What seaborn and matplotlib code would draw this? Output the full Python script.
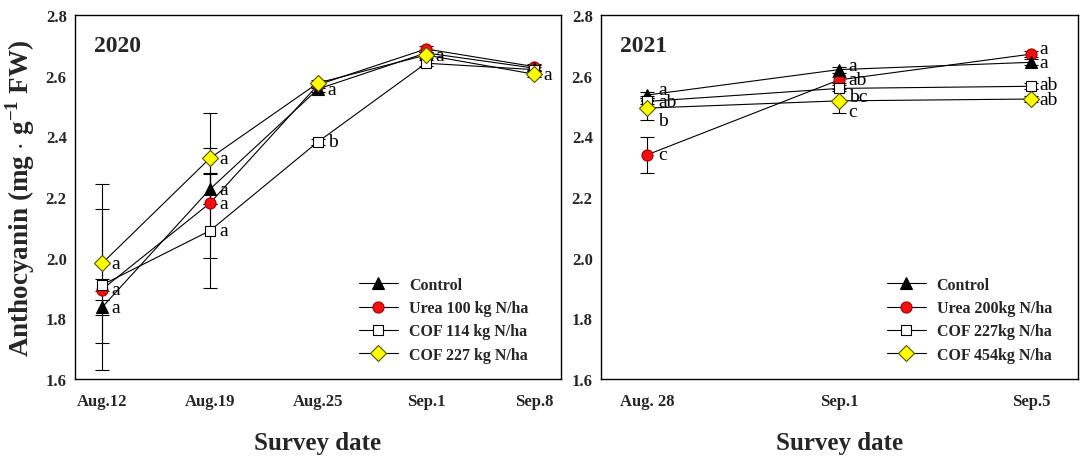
import matplotlib
matplotlib.use("Agg")
import matplotlib.pyplot as plt
import seaborn as sns
import pandas as pd
import numpy as np
from matplotlib.ticker import FormatStrFormatter

# ---------------- data ----------------
dates_2020 = ['Aug.12', 'Aug.19', 'Aug.25', 'Sep.1', 'Sep.8']
labels_2020 = ['Control', 'Urea 100 kg N/ha', 'COF 114 kg N/ha', 'COF 227 kg N/ha']
ctrl_2020 = [1.836, 2.226, 2.556, 2.675, 2.625]
urea_2020 = [1.895, 2.180, 2.570, 2.688, 2.630]
cof114_2020 = [1.910, 2.089, 2.382, 2.641, 2.620]
cof227_2020 = [1.981, 2.328, 2.576, 2.668, 2.605]
ctrl_err_2020 = [0.025, 0.05, 0.01, 0.01, 0.01]
urea_err_2020 = [0.265, 0.18, 0.01, 0.01, 0.01]
cof114_err_2020 = [0.02, 0.19, 0.01, 0.01, 0.01]
cof227_err_2020 = [0.262, 0.15, 0.01, 0.01, 0.01]
ctrl_let_2020 = ['a', 'a', 'a', '', '']
urea_let_2020 = ['a', 'a', '', '', '']
cof114_let_2020 = ['', 'a', 'b', '', '']
cof227_let_2020 = ['a', 'a', '', 'a', 'a']

dates_2021 = ['Aug. 28', 'Sep.1', 'Sep.5']
labels_2021 = ['Control', 'Urea 200kg N/ha', 'COF 227kg N/ha', 'COF 454kg N/ha']
ctrl_2021 = [2.536, 2.620, 2.644]
urea_2021 = [2.339, 2.586, 2.671]
cof227_2021 = [2.515, 2.558, 2.565]
cof454_2021 = [2.493, 2.517, 2.523]
ctrl_err_2021 = [0.01, 0.01, 0.01]
urea_err_2021 = [0.06, 0.01, 0.01]
cof227_err_2021 = [0.01, 0.01, 0.01]
cof454_err_2021 = [0.04, 0.04, 0.01]
ctrl_let_2021 = ['a', 'a', 'a']
urea_let_2021 = ['c', 'ab', 'a']
cof227_let_2021 = ['ab', 'bc', 'ab']
cof454_let_2021 = ['b', 'c', 'ab']

# letter vertical offsets (points) -- styling only
ctrl_dy_2021 = [4, 3, 0]
urea_dy_2021 = [0, 0, 4]
cof227_dy_2021 = [0, -6, 1]
cof454_dy_2021 = [-9, -8, 0]

# ---------------- style ----------------
sns.set_theme(style="white")
plt.rcParams['font.family'] = ['Liberation Serif', 'DejaVu Serif']
plt.rcParams['mathtext.fontset'] = 'custom'
plt.rcParams['mathtext.rm'] = 'Liberation Serif'
plt.rcParams['mathtext.bf'] = 'Liberation Serif:bold'

styles = [
    dict(marker='^', markerfacecolor='black', markeredgecolor='black', markersize=8.5),
    dict(marker='o', markerfacecolor='#ee1111', markeredgecolor='#aa0000', markersize=8),
    dict(marker='s', markerfacecolor='white', markeredgecolor='black', markersize=7.5),
    dict(marker='D', markerfacecolor='#ffff00', markeredgecolor='#555500', markersize=8),
]
zorders = [4, 3, 5, 6]

fig = plt.figure(figsize=(10.91, 4.6), dpi=100)
ax1 = fig.add_axes([75 / 1091, 1 - 380 / 460, 486 / 1091, 364 / 460])
ax2 = fig.add_axes([601 / 1091, 1 - 380 / 460, 477 / 1091, 364 / 460])


def draw(ax, dates, labels, vals, errs, lets, dys, xlim, title, leg_x, ldx):
    x = np.arange(len(dates))
    for i, (lab, v, e, l, dy) in enumerate(zip(labels, vals, errs, lets, dys)):
        df = pd.DataFrame({'x': x, 'y': v})
        ax.errorbar(x, v, yerr=e, fmt='none', ecolor='black', elinewidth=0.8,
                    capsize=5, capthick=0.8, zorder=2)
        sns.lineplot(data=df, x='x', y='y', ax=ax, color='black', linewidth=0.8,
                     label=lab, zorder=zorders[i], markeredgewidth=0.8, **styles[i])
        for xi, yi, li, dyi, dxi in zip(x, v, l, dy, ldx):
            if li:
                ax.annotate(li, (xi, yi), xytext=(dxi, dyi), textcoords='offset points',
                            ha='left', va='center', fontsize=14, color='black', zorder=8)
    ax.set_xlim(*xlim)
    ax.set_ylim(1.6, 2.8)
    ax.set_yticks(np.arange(1.6, 2.81, 0.2))
    ax.yaxis.set_major_formatter(FormatStrFormatter('%.1f'))
    ax.set_xticks(x)
    ax.set_xticklabels(dates)
    ax.tick_params(axis='y', direction='in', length=4, width=0.8, labelsize=12, pad=6)
    ax.tick_params(axis='x', length=0, labelsize=12, pad=10)
    for t in ax.get_xticklabels() + ax.get_yticklabels():
        t.set_fontweight('bold')
    for s in ax.spines.values():
        s.set_color('black')
        s.set_linewidth(1.0)
    ax.set_xlabel('Survey date', fontsize=18, fontweight='bold', labelpad=16)
    ax.set_ylabel('')
    ax.text(0.04, 0.915, title, transform=ax.transAxes, fontsize=17,
            fontweight='bold', ha='left', va='center')
    leg = ax.legend(loc='lower left', bbox_to_anchor=(leg_x, 0.045), frameon=False,
                    prop={'weight': 'bold', 'size': 11.5}, handlelength=2.4,
                    handletextpad=0.7, borderpad=0, borderaxespad=0, labelspacing=0.45)
    return leg


draw(ax1, dates_2020, labels_2020,
     [ctrl_2020, urea_2020, cof114_2020, cof227_2020],
     [ctrl_err_2020, urea_err_2020, cof114_err_2020, cof227_err_2020],
     [ctrl_let_2020, urea_let_2020, cof114_let_2020, cof227_let_2020],
     [[0] * 5] * 4, (-0.25, 4.25), '2020', 0.585, [7] * 5)

draw(ax2, dates_2021, labels_2021,
     [ctrl_2021, urea_2021, cof227_2021, cof454_2021],
     [ctrl_err_2021, urea_err_2021, cof227_err_2021, cof454_err_2021],
     [ctrl_let_2021, urea_let_2021, cof227_let_2021, cof454_let_2021],
     [ctrl_dy_2021, urea_dy_2021, cof227_dy_2021, cof454_dy_2021],
     (-0.24, 2.245), '2021', 0.60, [8, 7, 6])

ax1.set_ylabel(r'Anthocyanin (mg $\cdot$ g$^{\mathbf{-1}}$ FW)', fontsize=19.5,
               fontweight='bold', labelpad=6)

fig.savefig('out.png', dpi=100)
